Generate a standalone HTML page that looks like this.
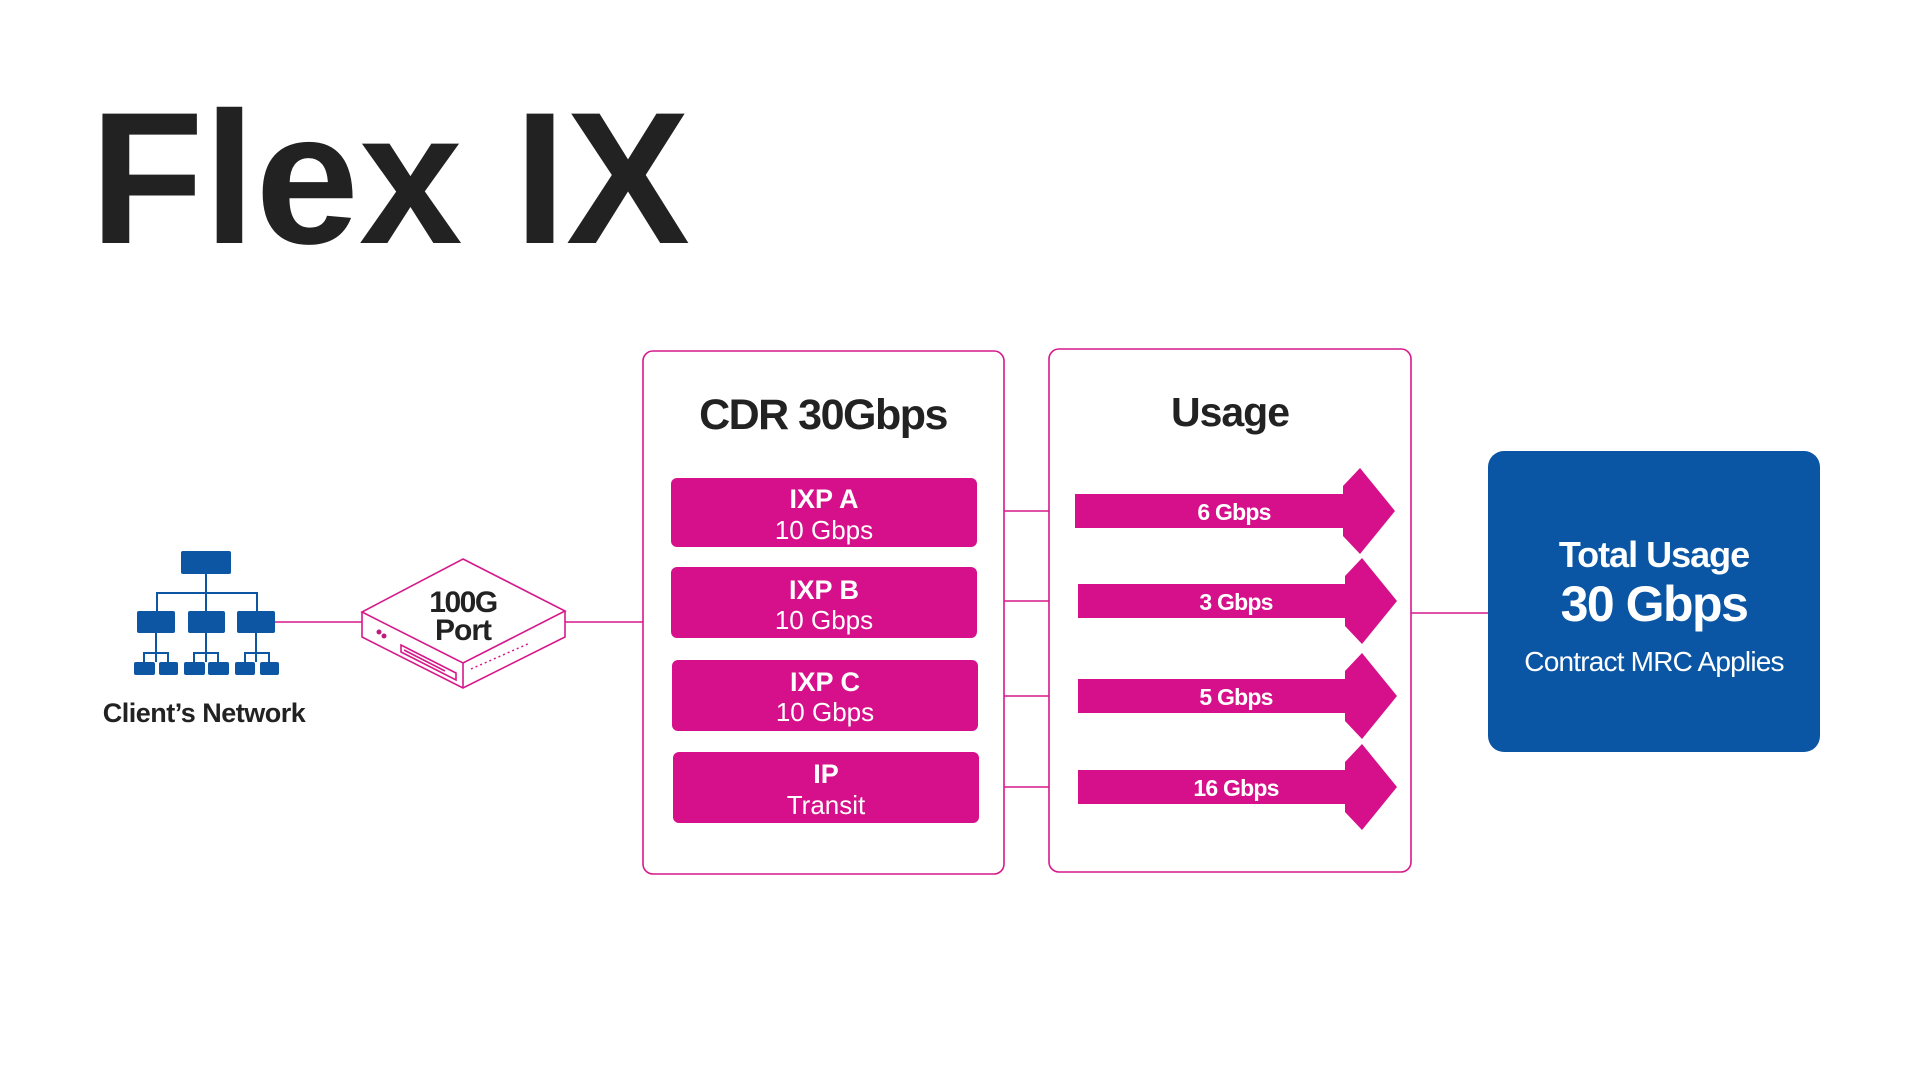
<!DOCTYPE html>
<html><head><meta charset="utf-8"><style>
html,body{margin:0;padding:0;background:#fff;}
svg{display:block;}
text{font-family:"Liberation Sans",sans-serif;}
</style></head><body>
<svg width="1920" height="1080" viewBox="0 0 1920 1080" xmlns="http://www.w3.org/2000/svg">
<rect width="1920" height="1080" fill="#fff"/>
<text x="90" y="243" font-size="188" font-weight="bold" fill="#222" textLength="600" lengthAdjust="spacingAndGlyphs">Flex IX</text>

<!-- network icon -->
<g fill="#0d56a3">
<rect x="181" y="551" width="50" height="23" rx="2"/>
<rect x="137" y="611" width="38" height="22" rx="2"/>
<rect x="188" y="611" width="37" height="22" rx="2"/>
<rect x="237" y="611" width="38" height="22" rx="2"/>
<rect x="134" y="662" width="21" height="13" rx="2"/>
<rect x="159" y="662" width="19" height="13" rx="2"/>
<rect x="184" y="662" width="21" height="13" rx="2"/>
<rect x="208" y="662" width="21" height="13" rx="2"/>
<rect x="235" y="662" width="20" height="13" rx="2"/>
<rect x="260" y="662" width="19" height="13" rx="2"/>
</g>
<g stroke="#0d56a3" stroke-width="2" fill="none">
<path d="M206 574V611M157 611V593H257V611"/>
<path d="M156 633V662M144 662V653H168V662"/>
<path d="M206 633V662M194 662V653H218V662"/>
<path d="M256 633V662M245 662V653H269V662"/>
</g>
<text x="204" y="722" font-size="27" font-weight="bold" fill="#222" text-anchor="middle" letter-spacing="-0.5">Client’s Network</text>

<g stroke="#d6188a" stroke-width="1.6" fill="none">
<line x1="275" y1="622" x2="362" y2="622"/>
<line x1="565" y1="622" x2="643" y2="622"/>
<path d="M463 559L565 611L463 663L362 612Z"/>
<path d="M362 612V637L463 688L565 637V611"/>
<path d="M463 663V688"/>
<path d="M401 645L456 673V680L401 652Z"/>
<path d="M404 650L445 671"/>
<line x1="1004" y1="511" x2="1049" y2="511"/>
<line x1="1004" y1="601" x2="1049" y2="601"/>
<line x1="1004" y1="696" x2="1049" y2="696"/>
<line x1="1004" y1="787" x2="1049" y2="787"/>
<line x1="1411" y1="613" x2="1488" y2="613"/>
<rect x="643" y="351" width="361" height="523" rx="10"/>
<rect x="1049" y="349" width="362" height="523" rx="10"/>
</g>
<circle cx="379" cy="632" r="2.5" fill="#c01a7d"/>
<circle cx="384" cy="636" r="2.5" fill="#c01a7d"/>
<path d="M471 669L530 643" stroke="#d6188a" stroke-width="1.5" stroke-dasharray="2 3"/>
<text x="463" y="612" font-size="30" font-weight="bold" fill="#222" text-anchor="middle" letter-spacing="-1.5">100G</text>
<text x="463" y="640" font-size="30" font-weight="bold" fill="#222" text-anchor="middle" letter-spacing="-1">Port</text>

<text x="823" y="429" font-size="43" font-weight="bold" fill="#222" text-anchor="middle" letter-spacing="-1.5">CDR 30Gbps</text>
<g fill="#d6108a">
<rect x="671" y="478" width="306" height="69" rx="6"/>
<rect x="671" y="567" width="306" height="71" rx="6"/>
<rect x="672" y="660" width="306" height="71" rx="6"/>
<rect x="673" y="752" width="306" height="71" rx="6"/>
</g>
<g fill="#fff" text-anchor="middle">
<text x="824" y="508" font-size="27" font-weight="bold">IXP A</text>
<text x="824" y="539" font-size="26">10 Gbps</text>
<text x="824" y="599" font-size="27" font-weight="bold">IXP B</text>
<text x="824" y="629" font-size="26">10 Gbps</text>
<text x="825" y="691" font-size="27" font-weight="bold">IXP C</text>
<text x="825" y="721" font-size="26">10 Gbps</text>
<text x="826" y="783" font-size="27" font-weight="bold">IP</text>
<text x="826" y="814" font-size="26">Transit</text>
</g>

<text x="1230" y="426" font-size="41" font-weight="bold" fill="#222" text-anchor="middle" letter-spacing="-1">Usage</text>
<g fill="#d6108a">
<path d="M1075 494H1343V486L1360 468L1395 511L1360 554L1343 536V528H1075Z"/>
<path d="M1078 584H1345V576L1362 558L1397 601L1362 644L1345 626V618H1078Z"/>
<path d="M1078 679H1345V671L1362 653L1397 696L1362 739L1345 721V713H1078Z"/>
<path d="M1078 770H1345V762L1362 744L1397 787L1362 830L1345 812V804H1078Z"/>
</g>
<g fill="#fff" text-anchor="middle" font-size="23" font-weight="bold" letter-spacing="-0.8">
<text x="1234" y="520">6 Gbps</text>
<text x="1236" y="610">3 Gbps</text>
<text x="1236" y="705">5 Gbps</text>
<text x="1236" y="796">16 Gbps</text>
</g>

<rect x="1488" y="451" width="332" height="301" rx="16" fill="#0b56a4"/>
<g fill="#fff" text-anchor="middle">
<text x="1654" y="567" font-size="36" font-weight="bold" letter-spacing="-1">Total Usage</text>
<text x="1654" y="621" font-size="50" font-weight="bold" letter-spacing="-1.5">30 Gbps</text>
<text x="1654" y="671" font-size="28" letter-spacing="-0.8">Contract MRC Applies</text>
</g>
</svg>
</body></html>
